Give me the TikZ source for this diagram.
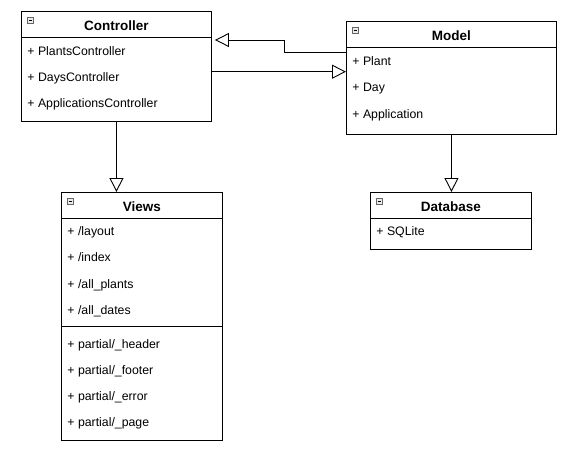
\documentclass[tikz,border=0pt]{standalone}
\usepackage{fontspec}
\setmainfont{Liberation Sans}
\usetikzlibrary{arrows.meta}
\begin{document}
\begin{tikzpicture}[x=1pt,y=-1pt,line width=0.9pt,
  b/.style={rectangle,draw,anchor=north west,inner sep=0pt},
  h/.style={anchor=base,inner sep=0pt,font=\fontsize{13.5}{16}\selectfont\bfseries},
  i/.style={anchor=base west,inner sep=0pt,font=\fontsize{12.3}{14}\selectfont},
  m/.style={rectangle,draw=black!60,fill=black!8,anchor=north west,inner sep=0pt,minimum size=6pt,line width=0.6pt,
    path picture={\draw[black,line width=0.7pt] ([xshift=1.3pt]path picture bounding box.west) -- ([xshift=-1.3pt]path picture bounding box.east);}},
  e/.style={draw,-{Triangle[open,length=14pt,width=14pt]}}]

\useasboundingbox (0,0) rectangle (586,458);

% Controller
\node[b,minimum width=190pt,minimum height=110pt] (ctrl) at (21,11) {};
\node[m] (ctrlM) at ([xshift=6pt,yshift=-6pt]ctrl.north west) {};
\node[h] (ctrlT) at ([yshift=-19.5pt]ctrl.north) {Controller};
\draw ([yshift=-26.5pt]ctrl.north west) -- ([yshift=-26.5pt]ctrl.north east);
\node[i] (ctrl1) at ([xshift=6pt,yshift=-44pt]ctrl.north west) {+ PlantsController};
\node[i] (ctrl2) at ([xshift=6pt,yshift=-70pt]ctrl.north west) {+ DaysController};
\node[i] (ctrl3) at ([xshift=6pt,yshift=-96.4pt]ctrl.north west) {+ ApplicationsController};

% Model
\node[b,minimum width=210pt,minimum height=113pt] (model) at (346,21) {};
\node[m] (modelM) at ([xshift=6pt,yshift=-6pt]model.north west) {};
\node[h] (modelT) at ([yshift=-19.5pt]model.north) {Model};
\draw ([yshift=-26.5pt]model.north west) -- ([yshift=-26.5pt]model.north east);
\node[i] (model1) at ([xshift=6pt,yshift=-44pt]model.north west) {+ Plant};
\node[i] (model2) at ([xshift=6pt,yshift=-70pt]model.north west) {+ Day};
\node[i] (model3) at ([xshift=6pt,yshift=-97.4pt]model.north west) {+ Application};

% Views
\node[b,minimum width=161pt,minimum height=248pt] (views) at (61,192) {};
\node[m] (viewsM) at ([xshift=6pt,yshift=-6pt]views.north west) {};
\node[h] (viewsT) at ([yshift=-19.5pt]views.north) {Views};
\draw ([yshift=-26.5pt]views.north west) -- ([yshift=-26.5pt]views.north east);
\node[i] (views1) at ([xshift=6pt,yshift=-43pt]views.north west) {+ /layout};
\node[i] (views2) at ([xshift=6pt,yshift=-69.4pt]views.north west) {+ /index};
\node[i] (views3) at ([xshift=6pt,yshift=-96pt]views.north west) {+ /all\_plants};
\node[i] (views4) at ([xshift=6pt,yshift=-122.2pt]views.north west) {+ /all\_dates};
\draw ([yshift=-134pt]views.north west) -- ([yshift=-134pt]views.north east);
\node[i] (views5) at ([xshift=6pt,yshift=-156.4pt]views.north west) {+ partial/\_header};
\node[i] (views6) at ([xshift=6pt,yshift=-182.4pt]views.north west) {+ partial/\_footer};
\node[i] (views7) at ([xshift=6pt,yshift=-208.4pt]views.north west) {+ partial/\_error};
\node[i] (views8) at ([xshift=6pt,yshift=-234.4pt]views.north west) {+ partial/\_page};

% Database
\node[b,minimum width=161pt,minimum height=57pt] (db) at (370,192) {};
\node[m] (dbM) at ([xshift=6pt,yshift=-6pt]db.north west) {};
\node[h] (dbT) at ([yshift=-19.5pt]db.north) {Database};
\draw ([yshift=-26.5pt]db.north west) -- ([yshift=-26.5pt]db.north east);
\node[i] (db1) at ([xshift=6pt,yshift=-43pt]db.north west) {+ SQLite};

% connectors
\path[e] ([yshift=-31pt]model.north west) -- ++(-62,0) |- ([xshift=3pt,yshift=-29pt]ctrl.north east);
\path[e] ([yshift=-60.7pt]ctrl.north east) -- ([yshift=-60.7pt]ctrl.north east -| model.west);
\path[e] (ctrl.south) -- (ctrl.south |- views.north);
\path[e] (model.south) -- (model.south |- db.north);

\end{tikzpicture}
\end{document}
